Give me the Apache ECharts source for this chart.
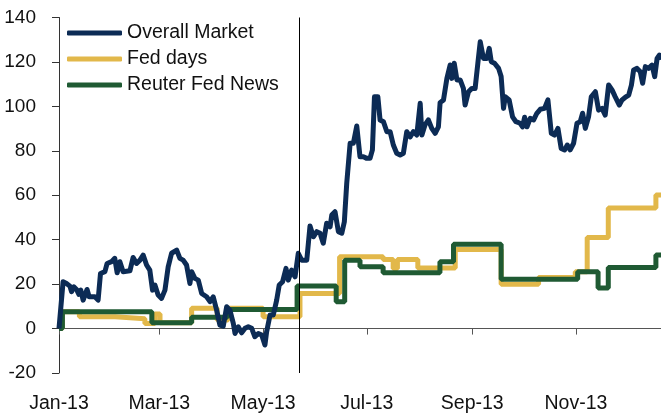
<!DOCTYPE html>
<html>
<head>
<meta charset="utf-8">
<script src="https://cdn.jsdelivr.net/npm/echarts@6/dist/echarts.min.js"></script>
<style>
html,body{margin:0;padding:0;background:#fff;}
#chart{width:661px;height:416px;}
</style>
</head>
<body>
<div id="chart"></div>
<script>
// x values are days since 1 Jan 2013
var tickDays = [0, 59, 120, 181, 243, 304];
var tickLabels = ['Jan-13', 'Mar-13', 'May-13', 'Jul-13', 'Sep-13', 'Nov-13'];
var eventDay = 141; // 22 May 2013

var marketDays = [0,2.4,4.4,6.4,7.4,8.7,10.3,11.7,12.8,14.2,16.5,17.7,21.1,23.0,24.4,27.0,28.3,30.9,32.8,34.2,35.8,37.7,41.7,43.6,45.6,47.6,49.5,51.5,53.4,55.0,56.4,58.3,60.3,62.3,64.2,66.2,69.2,71.1,73.0,75.0,77.0,78.0,79.9,81.9,83.9,86.8,88.8,90.7,92.7,94.6,96.6,98.6,100.5,102.5,103.5,105.4,107.4,109.4,111.3,113.3,115.2,117.2,119.2,121.1,122.1,124.1,126.0,128.0,129.5,131.5,133.5,134.8,136.8,138.8,140.7,142.7,145.7,147.6,149.6,151.6,153.5,155.4,157.4,159.4,160.4,162.3,164.3,166.3,167.8,169.2,171.2,173.1,175.1,177.0,179.0,181.0,182.9,184.3,185.5,187.5,188.8,190.8,192.8,194.7,196.6,198.6,200.6,202.5,204.5,206.5,208.4,210.4,212.4,213.4,215.3,217.2,219.2,221.2,223.1,224.1,226.1,228.1,230.0,231.0,232.4,234.0,235.9,237.8,238.8,240.8,242.8,244.7,246.3,247.7,249.6,251.6,253.0,254.2,256.1,258.5,260.0,261.4,262.4,264.7,266.7,268.7,271.2,272.6,273.8,275.2,277.1,279.1,281.0,283.0,285.5,287.5,289.5,291.4,293.4,295.3,297.3,298.9,300.6,302.6,304.6,306.5,307.9,309.5,311.4,313.0,315.4,317.3,319.3,321.2,323.2,325.2,327.1,329.5,331.1,333.4,335.0,336.6,337.9,339.9,341.8,343.2,344.8,346.7,348.7,350.3,351.7,353.1,354];
var marketValues = [0,21.1,20.3,19.1,16.6,18.8,17.6,15.4,17.3,12.8,17.6,14.3,14.3,12.8,24.8,25.6,29.3,30.1,31.6,25.1,30.1,25.6,26,32,29.3,30.8,33.1,28.6,26.3,17.3,19.6,15.1,13.6,17.3,27.8,33.9,35.3,31.6,30.8,28.6,20.3,25.6,22.6,21.8,15.8,14.3,12.1,14.3,8.3,1.6,1.1,9.8,8.3,2.3,-2.2,0.8,-1.9,0.1,0.8,0.1,-3.7,-2.2,-2.9,-7.4,-1.4,6.1,6.1,12.8,19.6,21.1,27.1,21.8,26.3,23.3,33.9,30.8,30.8,46.2,41.3,43.6,42.9,38.4,47.4,45.8,51.1,52.6,43.6,42.9,48.1,65.4,83.4,83.4,91.2,77.3,77.3,76.6,76.6,80.4,104.3,104.3,93.9,93.1,88.6,88.6,82.6,78.9,78.1,78.9,88.6,86.3,88.6,87.1,101.4,87.1,91.8,93.9,90.1,87.9,90.8,101.7,102.9,112.6,118.6,112.6,119.4,111.9,111.9,108.1,100.6,106.6,108.1,108.1,119.4,129.1,121.6,121.6,126.1,120.1,119.4,117.1,113.4,99.1,104.3,102.9,95.3,93.1,92.4,90.8,95.1,90.8,94.6,93.9,96.9,98.7,99.1,102.9,87.9,87.1,90.1,81.1,80.4,82.6,80.4,83.4,92.4,93.1,96.9,90.1,95.3,104.3,106.6,98.3,99.1,96.1,109.6,107.4,104.3,100.6,102.9,104.3,105.1,109.6,116.4,117.1,115.6,110.4,117.9,117.1,118.6,113.4,121.6,123.1,121];

var fedDaysX = [0,2,12,33,50.5,56.4,59.4,78,93,99.4,120,141.7,165,190.6,196.5,199,211,233,260,282,303.6,310.6,323,351,354];
var fedDaysValues = [0,7.6,5.3,4.4,2.3,6.5,2.6,9.1,3.8,9.1,5.3,15.8,32.3,31.1,27,31.1,27.3,35.6,20,23,25.6,41,54.3,60.1,60.1];

var reutersX = [0,2,54.6,78,99,140,163,168,177,190.6,224,232,260,305,317,323,351,354];
var reutersValues = [0,7.6,2.6,5.1,8.6,19.1,12.1,30.8,27.8,25.1,30.1,38,22.2,25.6,18.3,27.5,33.1,33.1];

function pairs(xs, ys){ return xs.map(function(x,i){ return [x, ys[i]]; }); }

var FONT = "'Liberation Sans', Arial, sans-serif";
var chart = echarts.init(document.getElementById('chart'));
chart.setOption({
  animation: false,
  backgroundColor: '#fff',
  grid: {left: 59, right: 0, top: 17.5, bottom: 43, containLabel: false, outerBoundsMode: 'none'},
  legend: {
    data: ['Overall Market', 'Fed days', 'Reuter Fed News'],
    orient: 'vertical', left: 67, top: 23, padding: 0,
    itemWidth: 55, itemHeight: 5, itemGap: 6,
    icon: 'roundRect',
    textStyle: {fontFamily: FONT, fontSize: 19.5, color: '#111', lineHeight: 20}
  },
  xAxis: {
    type: 'value', min: 0, max: 354,
    axisLine: {onZero: true, lineStyle: {color: '#555', width: 1}},
    axisTick: {show: true, length: 6, inside: false, customValues: tickDays, lineStyle: {color: '#555'}},
    axisLabel: {customValues: tickDays, margin: 21, fontFamily: FONT, fontSize: 19.5, color: '#111',
      formatter: function(v){ var i = tickDays.indexOf(v); return i >= 0 ? tickLabels[i] : ''; }},
    splitLine: {show: false}
  },
  yAxis: {
    type: 'value', min: -20, max: 140, interval: 20,
    axisLine: {show: true, lineStyle: {color: '#333', width: 1}},
    axisTick: {show: true, length: 7, lineStyle: {color: '#333'}},
    axisLabel: {margin: 23, fontFamily: FONT, fontSize: 19, color: '#111'},
    splitLine: {show: false}
  },
  series: [
    {name: 'Fed days', type: 'line', step: 'end', showSymbol: false, symbol: 'none',
     data: pairs(fedDaysX, fedDaysValues), color: '#e2b84a',
     lineStyle: {color: '#e2b84a', width: 5}},
    {name: 'Reuter Fed News', type: 'line', step: 'end', showSymbol: false, symbol: 'none',
     data: pairs(reutersX, reutersValues), color: '#1f5a33',
     lineStyle: {color: '#1f5a33', width: 5}},
    {name: 'Overall Market', type: 'line', showSymbol: false, symbol: 'none',
     data: pairs(marketDays, marketValues), color: '#0c2b55',
     lineStyle: {color: '#0c2b55', width: 5, join: 'round'},
     markLine: {silent: true, symbol: 'none', label: {show: false},
       lineStyle: {color: '#000', width: 1, type: 'solid'},
       data: [{xAxis: eventDay}]}}
  ]
});
</script>
</body>
</html>
